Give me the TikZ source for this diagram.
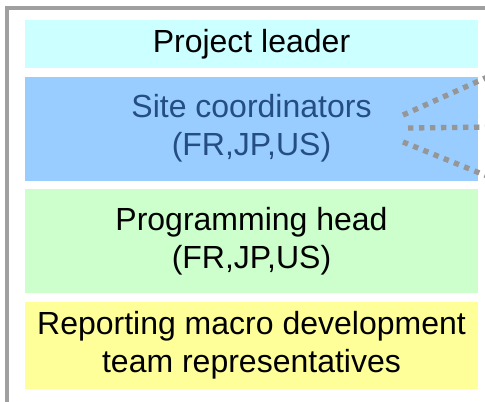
\documentclass[tikz,border=0pt]{standalone}
\usepackage{fontspec}
\setmainfont{Liberation Sans}
\usetikzlibrary{positioning}
\definecolor{leadercyan}{RGB}{204,255,255}
\definecolor{siteblue}{RGB}{153,204,255}
\definecolor{proggreen}{RGB}{204,255,204}
\definecolor{reportyellow}{RGB}{255,255,153}
\definecolor{sitetext}{RGB}{36,77,130}
\definecolor{framegray}{RGB}{160,160,160}
\definecolor{dotgray}{RGB}{150,150,150}
\tikzset{
  band/.style={rectangle, inner sep=0pt, minimum width=339.75pt, align=center,
    font=\fontsize{24}{28.5}\selectfont},
  link/.style={draw=dotgray, line width=4pt, dash pattern=on 4pt off 4.25pt}
}
\begin{document}
\begin{tikzpicture}[x=0.75pt, y=-0.75pt, node distance=6pt]
    \useasboundingbox (0,0) rectangle (485,401);
    \clip (0,0) rectangle (485,401);
    \draw[framegray, line width=3pt] (7,8) rectangle (520,440);
    \node[band, fill=leadercyan, minimum height=36pt] (leader) at (251.5,44) {Project leader};
    \node[band, fill=siteblue, minimum height=78pt, text=sitetext, below=of leader] (site) {Site coordinators\\(FR,JP,US)};
    \node[band, fill=proggreen, minimum height=78pt, below=of site] (prog) {Programming head\\(FR,JP,US)};
    \node[band, fill=reportyellow, minimum height=65.25pt, below=of prog] (report) {Reporting macro development\\team representatives};
    \coordinate (s1) at (403,115);
    \coordinate (s2) at (408,128);
    \coordinate (s3) at (403,142);
    \coordinate (e1) at (492,75);
    \coordinate (e2) at (492,127);
    \coordinate (e3) at (492,178);
    \draw[link] (s1) -- (e1);
    \draw[link] (s2) -- (e2);
    \draw[link] (s3) -- (e3);
\end{tikzpicture}
\end{document}
